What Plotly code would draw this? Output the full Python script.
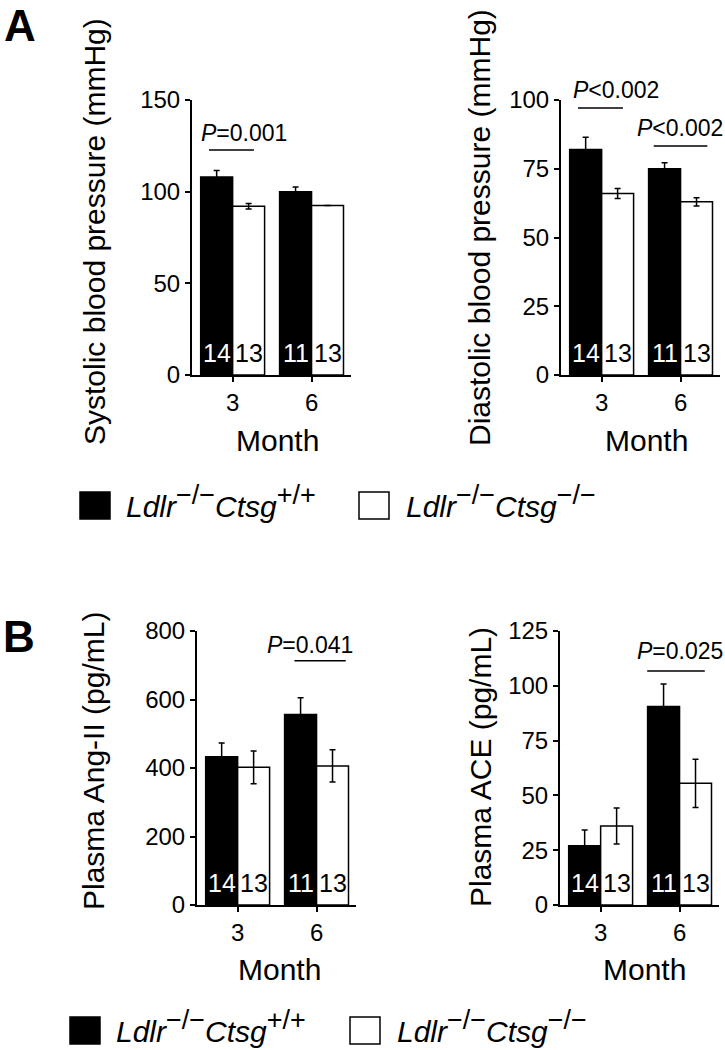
import plotly.graph_objects as go

W, H = 725, 1050
FONT = "Liberation Sans, Arial, sans-serif"

# ---------------- data ----------------
months = ["3", "6"]
SUP = "<sup><span style=\"font-size:27px\">%s</span></sup>"
legend_wt = "<i>Ldlr</i>" + SUP % "−/−" + "<i>Ctsg</i>" + SUP % "+/+"
legend_ko = "<i>Ldlr</i>" + SUP % "−/−" + "<i>Ctsg</i>" + SUP % "−/−"
n_wt = [14, 11]
n_ko = [13, 13]

sbp_wt = [108, 100]
sbp_wt_err = [3.5, 2.5]
sbp_ko = [92, 92.5]
sbp_ko_err = [1.5, 0]

dbp_wt = [82, 75]
dbp_wt_err = [4.5, 2.2]
dbp_ko = [66, 63]
dbp_ko_err = [1.8, 1.5]

ang_wt = [433, 556]
ang_wt_err = [40, 49]
ang_ko = [402, 406]
ang_ko_err = [48, 47]

ace_wt = [27, 90.5]
ace_wt_err = [7.2, 10.3]
ace_ko = [36, 55.5]
ace_ko_err = [8.2, 11]

y_titles = ["Systolic blood pressure (mmHg)", "Diastolic blood pressure (mmHg)",
            "Plasma Ang-II (pg/mL)", "Plasma ACE (pg/mL)"]
y_ranges = [[0, 150], [0, 100], [0, 800], [0, 125]]
y_dticks = [50, 25, 200, 25]

# p-value labels: (panel index, text, line x0, line x1, line y, text x, text y)
p_labels = [
    (0, "<i>P</i>=0.001", -0.30, 0.27, 122.7, 0.15, 126),
    (1, "<i>P</i><0.002", -0.30, 0.27, 97.1, 0.18, 99.5),
    (1, "<i>P</i><0.002", 0.66, 1.34, 83.3, 0.99, 86),
    (2, "<i>P</i>=0.041", 0.72, 1.37, 713, 0.92, 728),
    (3, "<i>P</i>=0.025", 0.59, 1.32, 106.8, 1.01, 111),
]

panels = [
    (sbp_wt, sbp_wt_err, sbp_ko, sbp_ko_err),
    (dbp_wt, dbp_wt_err, dbp_ko, dbp_ko_err),
    (ang_wt, ang_wt_err, ang_ko, ang_ko_err),
    (ace_wt, ace_wt_err, ace_ko, ace_ko_err),
]

# ---------------- layout geometry (pixels) ----------------
# (x_left, x_right, y_top, y_bottom)
boxes = [(192, 351, 100, 375), (561, 720, 100, 375),
         (197, 356, 631, 905), (560, 719, 631, 905)]
title_pos = [(94, 232), (480, 228), (93, 761), (480, 767)]
month_pos = [(277, 440), (646, 440), (279, 969), (644, 969)]


def fx(p):
    return p / W


def fy(p):
    return 1 - p / H


fig = go.Figure()
layout = dict(
    width=W, height=H, margin=dict(l=0, r=0, t=0, b=0, autoexpand=False),
    paper_bgcolor="white", plot_bgcolor="white",
    showlegend=False, font=dict(family=FONT, color="black"),
)
annotations = []
shapes = []

BW = 0.405
for i, (wt, wte, ko, koe) in enumerate(panels):
    sfx = "" if i == 0 else str(i + 1)
    xa, ya = "x" + sfx, "y" + sfx
    fig.add_trace(go.Bar(
        x=months, y=wt, width=BW, offset=-BW, xaxis=xa, yaxis=ya,
        marker=dict(color="black", line=dict(color="black", width=1.5)),
        error_y=dict(type="data", array=wte, color="black", thickness=1.5, width=3),
        name="wt"))
    fig.add_trace(go.Bar(
        x=months, y=ko, width=BW, offset=0, xaxis=xa, yaxis=ya,
        marker=dict(color="white", line=dict(color="black", width=1.5)),
        error_y=dict(type="data", array=koe, color="black", thickness=1.5, width=3),
        name="ko"))
    x0, x1, yt, yb = boxes[i]
    layout["xaxis" + sfx] = dict(
        domain=[fx(x0), fx(x1)], anchor=ya, type="category",
        range=[-0.515, 1.5], showline=True, linecolor="black", linewidth=2,
        ticks="outside", ticklen=5, tickwidth=1.5, tickcolor="black",
        showgrid=False, zeroline=False, automargin=False,
        tickfont=dict(size=24, family=FONT, color="black"))
    layout["yaxis" + sfx] = dict(
        domain=[fy(yb), fy(yt)], anchor=xa, range=y_ranges[i], dtick=y_dticks[i],
        showline=True, linecolor="black", linewidth=2,
        ticks="outside", ticklen=5, tickwidth=1.5, tickcolor="black",
        showgrid=False, zeroline=False, automargin=False,
        tickfont=dict(size=24, family=FONT, color="black"))
    # count labels inside bars (category index j)
    for j in range(len(months)):
        annotations.append(dict(
            xref=xa, yref=ya, x=j, y=0, xshift=-16, yshift=6,
            xanchor="center", yanchor="bottom", showarrow=False,
            text=str(n_wt[j]), font=dict(size=25, color="white", family=FONT)))
        annotations.append(dict(
            xref=xa, yref=ya, x=j, y=0, xshift=16, yshift=6,
            xanchor="center", yanchor="bottom", showarrow=False,
            text=str(n_ko[j]), font=dict(size=25, color="black", family=FONT)))
    # titles
    tx, ty = title_pos[i]
    annotations.append(dict(
        xref="paper", yref="paper", x=fx(tx), y=fy(ty), textangle=-90,
        xanchor="center", yanchor="middle", showarrow=False,
        text=y_titles[i], font=dict(size=30, family=FONT, color="black")))
    mx, my = month_pos[i]
    annotations.append(dict(
        xref="paper", yref="paper", x=fx(mx), y=fy(my),
        xanchor="center", yanchor="middle", showarrow=False,
        text="Month", font=dict(size=30, family=FONT, color="black")))

for (pi, txt, lx0, lx1, ly, tx, ty) in p_labels:
    sfx = "" if pi == 0 else str(pi + 1)
    shapes.append(dict(type="line", xref="x" + sfx, yref="y" + sfx,
                       x0=lx0, x1=lx1, y0=ly, y1=ly,
                       line=dict(color="black", width=1.5)))
    annotations.append(dict(
        xref="x" + sfx, yref="y" + sfx, x=tx, y=ty, xanchor="center", yanchor="bottom",
        yshift=-4, showarrow=False, text=txt,
        font=dict(size=23, family=FONT, color="black")))

# panel letters
annotations.append(dict(xref="paper", yref="paper", x=fx(20), y=1,
                        xanchor="center", yanchor="top", showarrow=False, borderpad=0,
                        text="<b>A</b>", font=dict(size=44, family=FONT, color="black")))
annotations.append(dict(xref="paper", yref="paper", x=fx(19), y=fy(636),
                        xanchor="center", yanchor="middle", showarrow=False,
                        text="<b>B</b>", font=dict(size=44, family=FONT, color="black")))

# legends (two copies)
legend_rows = [  # (black sq x0, white sq x0, black text x, white text x, y top)
    (80, 359, 125, 405, 492),
    (70, 350, 115, 396, 1017),
]
for (bx, wx, btx, wtx, yt) in legend_rows:
    shapes.append(dict(type="rect", xref="paper", yref="paper",
                       x0=fx(bx), x1=fx(bx + 30), y0=fy(yt + 27), y1=fy(yt),
                       fillcolor="black", line=dict(color="black", width=1.5)))
    shapes.append(dict(type="rect", xref="paper", yref="paper",
                       x0=fx(wx), x1=fx(wx + 30), y0=fy(yt + 27), y1=fy(yt),
                       fillcolor="white", line=dict(color="black", width=1.5)))
    for (tx, txt) in [(btx, legend_wt), (wtx, legend_ko)]:
        annotations.append(dict(xref="paper", yref="paper", x=fx(tx), y=fy(yt + 32),
                                xanchor="left", yanchor="bottom", showarrow=False,
                                borderpad=0,
                                text=txt, font=dict(size=30, family=FONT, color="black")))

layout["annotations"] = annotations
layout["shapes"] = shapes
fig.update_layout(**layout)
fig.write_html("out.html", config={"displayModeBar": False},
               post_script="document.body.style.margin='0px';")
